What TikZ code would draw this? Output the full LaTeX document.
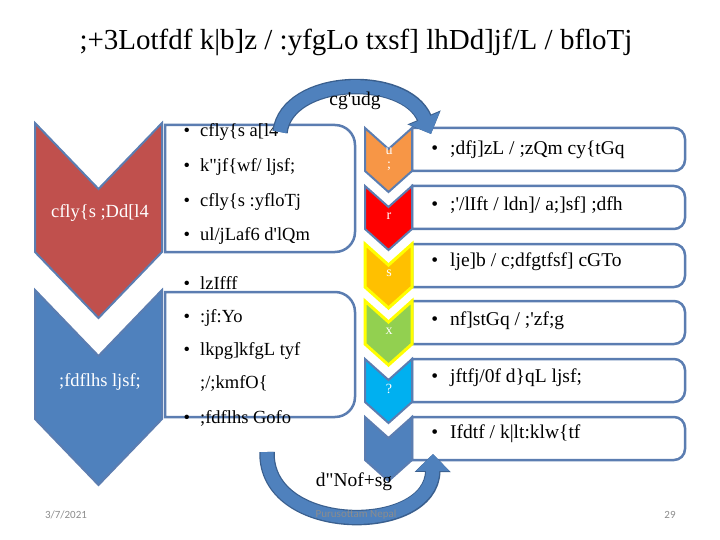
\documentclass[tikz,border=0pt]{standalone}
\usepackage{fontspec}
\setmainfont{Liberation Serif}
\newfontfamily\footfont{Carlito}
\usetikzlibrary{arrows.meta}

\definecolor{chevred}{HTML}{C0504D}
\definecolor{chevblue}{HTML}{4F81BD}
\definecolor{edgeblue}{HTML}{5B7DB1}
\definecolor{arrowdark}{HTML}{3A5F8E}
\definecolor{orng}{HTML}{F79646}
\definecolor{brightred}{HTML}{FF0000}
\definecolor{gold}{HTML}{FFC000}
\definecolor{leaf}{HTML}{92D050}
\definecolor{sky}{HTML}{00B0F0}
\definecolor{glow}{HTML}{FFFF00}
\definecolor{footgray}{HTML}{8C8C8C}

% chevron: [style] left x, right x, top y, notch depth, side height
\newcommand{\chevron}[6][]{%
  \draw[#1] (#2,#4) -- ({(#2+#3)/2},{#4+#5}) -- (#3,#4) -- (#3,{#4+#6})
    -- ({(#2+#3)/2},{#4+#5+#6}) -- (#2,{#4+#6}) -- cycle;}

% box, square on the left, rounded on the right: left, top, right, bottom, radius
\newcommand{\tabbox}[5]{%
  \draw[boxline] (#1,#2) -- ({#3-#5},#2) arc[start angle=90,end angle=0,radius=#5pt]
    -- (#3,{#4-#5}) arc[start angle=0,end angle=-90,radius=#5pt] -- (#1,#4) -- cycle;}

\begin{document}
\begin{tikzpicture}[x=1pt,y=-1pt,
  boxline/.style={draw=edgeblue,line width=2.5pt,fill=white},
  bluechev/.style={draw=edgeblue,line width=2pt,line join=miter},
  glowchev/.style={draw=glow,line width=3pt,line join=miter},
  chevtext/.style={text=white,font=\fontsize{18.5}{20}\selectfont},
  numtext/.style={text=white,font=\fontsize{14}{12}\selectfont,inner sep=0pt},
  item/.style={anchor=west,inner sep=0pt,align=left,
    font=\fontsize{18.5}{33}\selectfont},
  rowitem/.style={item,font=\fontsize{19.5}{22}\selectfont},
  flowarrow/.style={line width=13pt,chevblue,-{Triangle[length=17pt,width=32pt]}},
  flowedge/.style={line width=15.5pt,arrowdark,-{Triangle[length=18pt,width=35pt]}},
  arrowtext/.style={font=\fontsize{19.5}{20}\selectfont},
  foot/.style={text=footgray,font=\footfont\fontsize{11}{12}\selectfont}]

\useasboundingbox (0,0) rectangle (720,540);

\node[font=\fontsize{29}{32}\selectfont] (title) at (356,42)
  {;+3Lotfdf k|b]z / :yfgLo txsf] lhDd]jf/L / bfloTj};

% left column
\tabbox{165}{125}{355}{252}{20}
\tabbox{165}{292}{355}{417}{20}
\chevron[bluechev,fill=chevred]{35}{162}{123}{66}{129}
\chevron[bluechev,fill=chevblue]{35}{162}{290}{66}{129}
\node[chevtext] (econ) at (100,213) {cfly\{s ;Dd[l4};
\node[chevtext] (social) at (100,382) {;fdflhs ljsf;};

\node[item] (e1) at (200,132) {\llap{\textbullet\hspace{10pt}}cfly\{s a[l4};
\node[item] (e2) at (200,167) {\llap{\textbullet\hspace{10pt}}k\textquotedbl jf\{wf/ ljsf;};
\node[item] (e3) at (200,202) {\llap{\textbullet\hspace{10pt}}cfly\{s :yfloTj};
\node[item] (e4) at (200,236) {\llap{\textbullet\hspace{10pt}}ul/jLaf6 d\textquotesingle lQm};

\node[item] (s1) at (200,283) {\llap{\textbullet\hspace{10pt}}lzIfff};
\node[item] (s2) at (200,318) {\llap{\textbullet\hspace{10pt}}:jf:Yo};
\node[item,anchor=north west] (s3) at (200,342) {\llap{\textbullet\hspace{10pt}}lkpg]kfgL tyf\\;/;kmfO\{};
\node[item] (s4) at (200,418) {\llap{\textbullet\hspace{10pt}};fdflhs Gofo};

% right column
\tabbox{412}{128}{685}{171}{11}
\tabbox{412}{186}{685}{229}{11}
\tabbox{412}{244}{685}{287}{11}
\tabbox{412}{301}{685}{344}{11}
\tabbox{412}{359}{685}{402}{11}
\tabbox{412}{417}{685}{460}{11}
\chevron[bluechev,fill=orng]{365}{412}{128}{21}{43}
\chevron[bluechev,fill=brightred]{365}{412}{186}{21}{43}
\chevron[glowchev,fill=gold]{365}{412}{244}{21}{43}
\chevron[glowchev,fill=leaf]{365}{412}{301}{21}{43}
\chevron[bluechev,fill=sky]{365}{412}{359}{21}{43}
\chevron[bluechev,fill=chevblue]{365}{412}{417}{21}{43}
\node[numtext] (n1) at (389,151) {u};
\node[numtext] (n1b) at (389,166) {;};
\node[numtext] (n2) at (389,216) {r};
\node[numtext] (n3) at (389,273) {s};
\node[numtext] (n4) at (389,331) {x};
\node[numtext] (n5) at (389,389) {?};

\node[rowitem] (r1) at (450,150) {\llap{\textbullet\hspace{12pt}};dfj]zL / ;zQm cy\{tGq};
\node[rowitem] (r2) at (450,205) {\llap{\textbullet\hspace{12pt}};\textquotesingle/lIft / ldn]/ a;]sf] ;dfh};
\node[rowitem] (r3) at (450,262) {\llap{\textbullet\hspace{12pt}}lje]b / c;dfgtfsf] cGTo};
\node[rowitem] (r4) at (450,321) {\llap{\textbullet\hspace{12pt}}nf]stGq / ;\textquotesingle zf;g};
\node[rowitem] (r5) at (450,378) {\llap{\textbullet\hspace{12pt}}jftfj/0f d\}qL ljsf;};
\node[rowitem] (r6) at (450,434) {\llap{\textbullet\hspace{12pt}}Ifdtf / k|lt:klw\{tf};

% curved arrows
\coordinate (topstart) at (280,132);
\coordinate (toptip) at (431,134);
\coordinate (lowstart) at (267,452);
\coordinate (lowtip) at (433,454);
\draw[flowedge] (topstart) .. controls (287,76) and (405,72) .. (toptip);
\draw[flowarrow] (topstart) .. controls (287,76) and (405,72) .. (toptip);
\draw[flowedge] (lowstart) .. controls (265,536) and (432,536) .. (lowtip);
\draw[flowarrow] (lowstart) .. controls (265,536) and (432,536) .. (lowtip);
\node[arrowtext] (follow) at (355,101) {cg\textquotesingle udg};
\node[arrowtext] (review) at (354,482) {d\textquotedbl Nof+sg};

% footer
\node[foot] (date) at (66,515) {3/7/2021};
\node[foot] (author) at (356,515) {Purusottam Nepal};
\node[foot] (page) at (670,515) {29};
\end{tikzpicture}
\end{document}
